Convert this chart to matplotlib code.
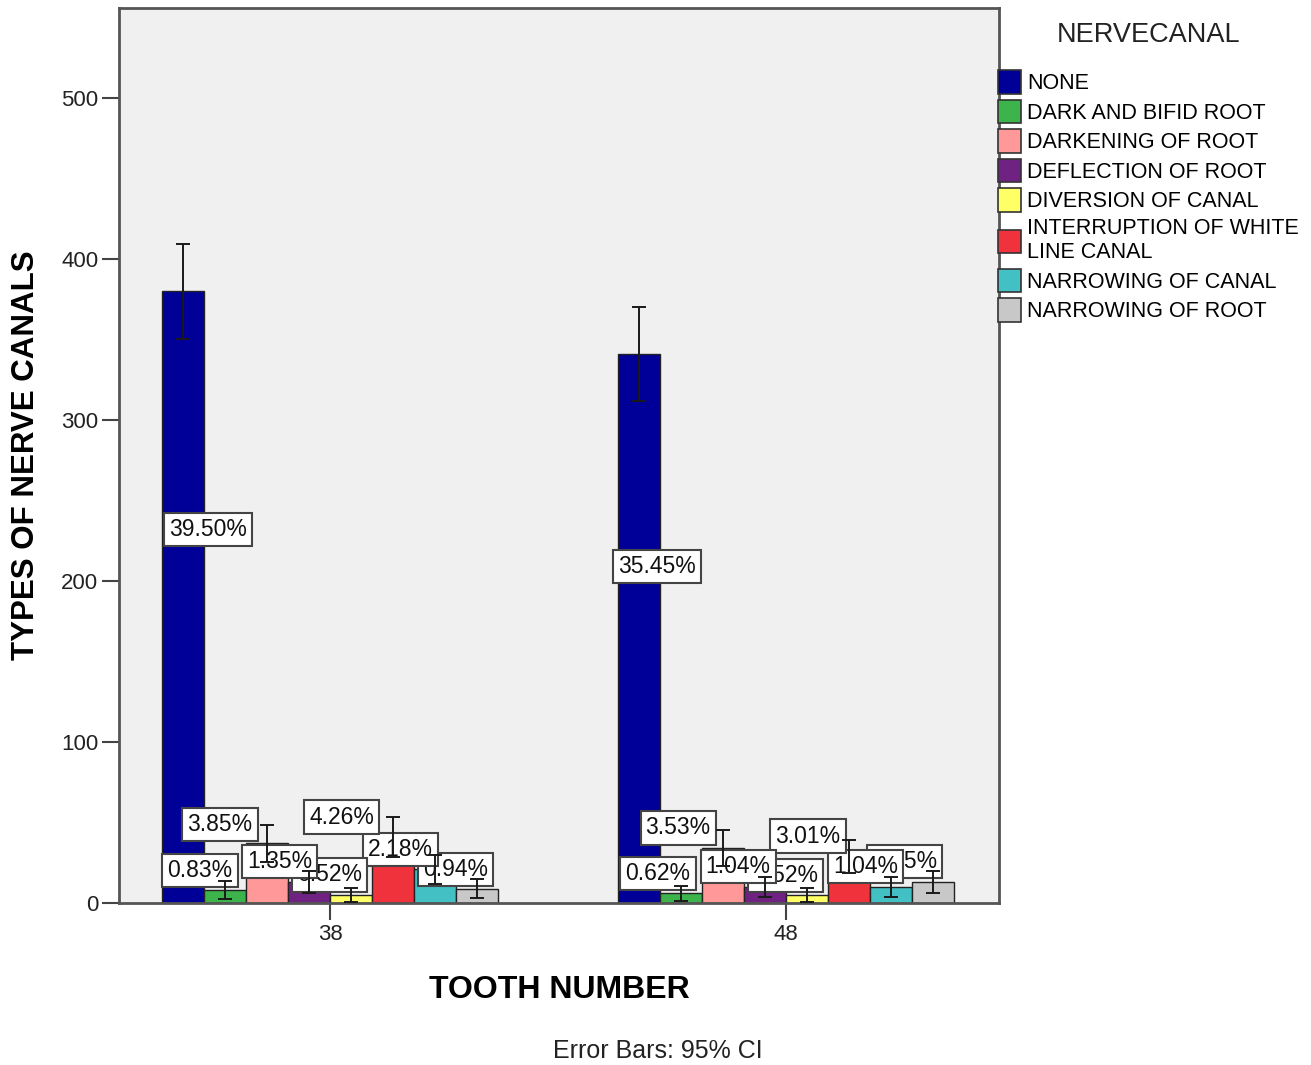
import numpy as np
import matplotlib
matplotlib.use("Agg")
import matplotlib.pyplot as plt
from matplotlib.patches import Patch

plt.rcParams['font.family'] = ['Liberation Sans', 'DejaVu Sans']

# ---- data ----
teeth = ["38", "48"]
canal_types = ["NONE", "DARK AND BIFID ROOT", "DARKENING OF ROOT", "DEFLECTION OF ROOT",
               "DIVERSION OF CANAL", "INTERRUPTION OF WHITE\nLINE CANAL",
               "NARROWING OF CANAL", "NARROWING OF ROOT"]
total_cases = 962
pct_38 = [39.50, 0.83, 3.85, 1.35, 0.52, 4.26, 2.18, 0.94]
pct_48 = [35.45, 0.62, 3.53, 1.04, 0.52, 3.01, 1.04, 1.35]
ci_low_38 = [350.3, 2.5, 25.3, 6.0, 0.6, 28.7, 12.1, 3.1]
ci_high_38 = [409.7, 13.5, 48.7, 20.0, 9.4, 53.3, 29.9, 14.9]
ci_low_48 = [311.9, 1.2, 22.8, 3.8, 0.6, 18.6, 3.8, 6.0]
ci_high_48 = [370.1, 10.8, 45.2, 16.2, 9.4, 39.4, 16.2, 20.0]

colors = ["#000099", "#3cb44b", "#ff9999", "#702283", "#ffff66",
          "#f0323c", "#42c0c4", "#c8c8c8"]

# label placement: horizontal shift (in bar widths) and height (axis units)
label_dx = [[0.59, -0.60, -1.12, -0.70, -0.52, -1.22, -0.83, -0.52],
            [0.42, -0.55, -1.07, -0.64, -0.52, -0.98, -0.60, -0.68]]
label_y = [[232, 20, 49, 25.5, 17.4, 53.4, 33, 21],
           [209, 18.6, 46.6, 22.4, 16.8, 41.6, 22.4, 25.5]]

pcts = [pct_38, pct_48]
ci_low = [ci_low_38, ci_low_48]
ci_high = [ci_high_38, ci_high_48]

fig = plt.figure(figsize=(13.11, 10.65), dpi=100)
ax = fig.add_axes([119/1311, 1 - 903/1065, 880/1311, 895/1065])
ax.set_facecolor("#f0f0f0")

n = len(canal_types)
w = 0.0921
xg = np.arange(len(teeth))

for i in range(n):
    for g in range(len(teeth)):
        count = round(pcts[g][i] * total_cases / 100)
        xc = xg[g] + (i - (n - 1) / 2) * w
        ax.bar(xc, count, width=w, color=colors[i], edgecolor="#222222",
               linewidth=1.0, zorder=2)
        lo, hi = ci_low[g][i], ci_high[g][i]
        ax.errorbar(xc, count, yerr=[[count - lo], [hi - count]], fmt="none",
                    ecolor="#1a1a1a", elinewidth=1.4, capsize=5, capthick=1.4,
                    zorder=30)
        ax.text(xc + label_dx[g][i] * w, label_y[g][i], f"{pcts[g][i]:.2f}%",
                ha="center", va="center", fontsize=16.5, color="#111111",
                zorder=20 - i,
                bbox=dict(boxstyle="square,pad=0.22", facecolor="white",
                          edgecolor="#444444", linewidth=1.5))

ax.set_xlim(-0.463, 1.467)
ax.set_ylim(0, 556)
ax.set_xticks(xg)
ax.set_xticklabels(teeth)
ax.set_yticks(np.arange(0, 501, 100))
ax.tick_params(axis="both", labelsize=16, length=12, width=1.5,
               color="#444444", labelcolor="#222222", pad=3)
for s in ax.spines.values():
    s.set_color("#555555")
    s.set_linewidth(2)

ax.set_xlabel("TOOTH NUMBER", fontsize=23, fontweight="bold", labelpad=22)
ax.set_ylabel("TYPES OF NERVE CANALS", fontsize=22.5, fontweight="bold",
              labelpad=14)
fig.text(658 / 1311, 1 - 1051 / 1065, "Error Bars: 95% CI", ha="center",
         va="center", fontsize=18, color="#222222")

handles = [Patch(facecolor=c, edgecolor="#333333", linewidth=1.2) for c in colors]
leg = fig.legend(handles, canal_types, loc="upper left",
                 bbox_to_anchor=(998 / 1311, 1 - 22 / 1065), frameon=False,
                 title="NERVECANAL", title_fontsize=19.5, fontsize=15.5,
                 handlelength=1.05, handleheight=1.3, handletextpad=0.3,
                 labelspacing=0.26, borderaxespad=0, borderpad=0)
leg.get_title().set_color("#222222")
leg._legend_box.sep = 16

fig.savefig("out.png", dpi=100)
